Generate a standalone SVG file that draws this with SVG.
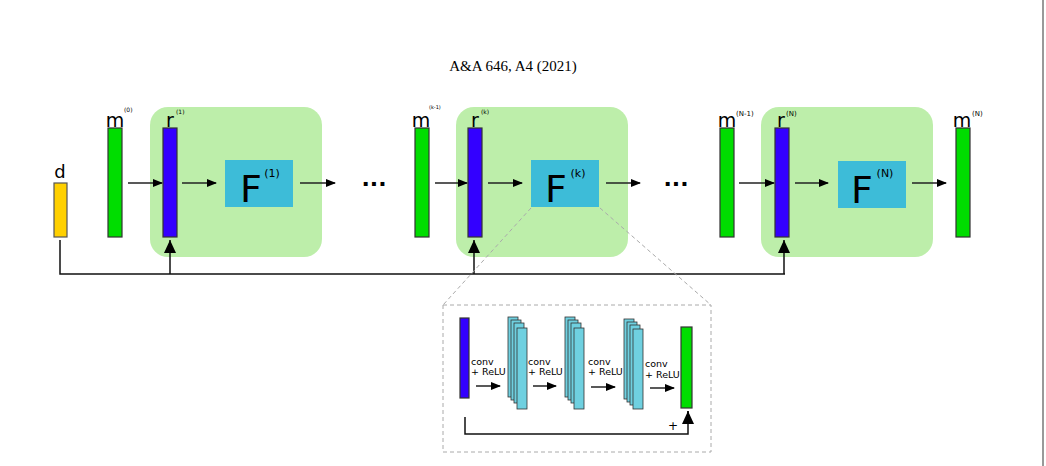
<svg xmlns="http://www.w3.org/2000/svg" width="1046" height="466" viewBox="0 0 1046 466">
<style>
.t{font-family:"DejaVu Sans",sans-serif;fill:#000}
.g{fill:#00dd00;stroke:#333;stroke-width:1.2}
.b{fill:#3300ff;stroke:#333;stroke-width:1.2}
.box{fill:#bdeeaa}
.F{fill:#3dbcd8}
.c{fill:#6fd0e0;stroke:#333;stroke-width:0.8}
.a{stroke:#222;stroke-width:1.5;fill:none}
.l{stroke:#111;stroke-width:1.5;fill:none}
.d{stroke:#aaa;stroke-width:1;stroke-dasharray:4,3;fill:none}
</style>
<defs>
<marker id="ar" markerWidth="10" markerHeight="8" refX="9" refY="4" orient="auto" markerUnits="userSpaceOnUse"><path d="M0,0L10,4L0,8z" fill="#000"/></marker>
<marker id="au" markerWidth="14" markerHeight="12" refX="13" refY="6" orient="auto" markerUnits="userSpaceOnUse"><path d="M0,0L13,6L0,12z" fill="#000"/></marker>
</defs>
<rect width="1046" height="466" fill="#fff"/>
<line x1="1043" y1="0" x2="1043" y2="466" stroke="#999" stroke-width="2"/>
<text x="513" y="71" text-anchor="middle" font-family="Liberation Serif,serif" font-size="15">A&amp;A 646, A4 (2021)</text>

<g id="block1"><rect class="box" x="150" y="107" width="172" height="150" rx="18"/></g>
<g id="block2"><rect class="box" x="456" y="107" width="172" height="150" rx="18"/></g>
<g id="block3"><rect class="box" x="761" y="107" width="172" height="150" rx="18"/></g>

<g id="d"><rect x="54" y="183" width="13" height="54" fill="#ffd000" stroke="#555" stroke-width="1.2"/><text class="t" x="60" y="178" text-anchor="middle" font-size="18">d</text></g>
<g id="m0"><rect class="g" x="108" y="128" width="14" height="109"/><text class="t" x="115" y="127" text-anchor="middle" font-size="19">m</text><text class="t" x="124" y="112" font-size="6">(0)</text></g>
<g id="r1"><rect class="b" x="163" y="128" width="14" height="109"/><text class="t" x="170" y="127" text-anchor="middle" font-size="19">r</text><text class="t" x="176" y="114" font-size="6">(1)</text></g>
<g id="F1"><rect class="F" x="225" y="160" width="68" height="47"/><text class="t" x="251" y="202" text-anchor="middle" font-size="38">F</text><text class="t" x="272" y="177" text-anchor="middle" font-size="11">(1)</text></g>

<g id="mk1"><rect class="g" x="415" y="128" width="14" height="109"/><text class="t" x="421" y="127" text-anchor="middle" font-size="19">m</text><text class="t" x="429" y="109" font-size="5">(k-1)</text></g>
<g id="rk"><rect class="b" x="468" y="128" width="14" height="109"/><text class="t" x="475" y="127" text-anchor="middle" font-size="19">r</text><text class="t" x="481" y="114" font-size="6">(k)</text></g>
<g id="Fk"><rect class="F" x="531" y="160" width="68" height="47"/><text class="t" x="556" y="202" text-anchor="middle" font-size="38">F</text><text class="t" x="578" y="177" text-anchor="middle" font-size="11">(k)</text></g>

<g id="mN1"><rect class="g" x="720" y="128" width="14" height="109"/><text class="t" x="727" y="127" text-anchor="middle" font-size="19">m</text><text class="t" x="736" y="116" font-size="7">(N-1)</text></g>
<g id="rN"><rect class="b" x="775" y="128" width="14" height="109"/><text class="t" x="781" y="127" text-anchor="middle" font-size="19">r</text><text class="t" x="786" y="116" font-size="7">(N)</text></g>
<g id="FN"><rect class="F" x="838" y="161" width="68" height="47"/><text class="t" x="862" y="203" text-anchor="middle" font-size="38">F</text><text class="t" x="885" y="177" text-anchor="middle" font-size="11">(N)</text></g>
<g id="mN"><rect class="g" x="956" y="128" width="14" height="109"/><text class="t" x="962" y="127" text-anchor="middle" font-size="19">m</text><text class="t" x="972" y="116" font-size="7">(N)</text></g>

<g id="dots"><text class="t" x="374" y="191" text-anchor="middle" font-size="22" font-weight="bold">···</text><text class="t" x="676" y="191" text-anchor="middle" font-size="22" font-weight="bold">···</text></g>

<g id="connectors">
<line class="a" x1="128" y1="183" x2="162" y2="183" marker-end="url(#ar)"/>
<line class="a" x1="182" y1="183" x2="216" y2="183" marker-end="url(#ar)"/>
<line class="a" x1="300" y1="183" x2="335" y2="183" marker-end="url(#ar)"/>
<line class="a" x1="435" y1="183" x2="467" y2="183" marker-end="url(#ar)"/>
<line class="a" x1="488" y1="183" x2="522" y2="183" marker-end="url(#ar)"/>
<line class="a" x1="606" y1="183" x2="640" y2="183" marker-end="url(#ar)"/>
<line class="a" x1="739" y1="183" x2="774" y2="183" marker-end="url(#ar)"/>
<line class="a" x1="795" y1="183" x2="828" y2="183" marker-end="url(#ar)"/>
<line class="a" x1="912" y1="183" x2="946" y2="183" marker-end="url(#ar)"/>
<path class="l" d="M60,240V274H785"/>
<line class="l" x1="170" y1="274" x2="170" y2="240" marker-end="url(#au)"/>
<line class="l" x1="474" y1="274" x2="474" y2="240" marker-end="url(#au)"/>
<line class="l" x1="784" y1="274" x2="784" y2="240" marker-end="url(#au)"/>
<line class="d" x1="531" y1="208" x2="443" y2="305"/>
<line class="d" x1="600" y1="208" x2="711" y2="305"/>
</g>

<g id="inset">
<rect class="d" x="443" y="305" width="268" height="147"/>
<rect class="b" x="460" y="318" width="9" height="80"/>
<g id="s1"><rect class="c" x="508" y="317" width="10" height="80"/><rect class="c" x="511" y="320" width="10" height="80"/><rect class="c" x="514" y="323" width="10" height="80"/><rect class="c" x="517" y="328" width="10" height="81"/></g>
<g id="s2"><rect class="c" x="565" y="317" width="10" height="80"/><rect class="c" x="568" y="320" width="10" height="80"/><rect class="c" x="571" y="323" width="10" height="80"/><rect class="c" x="574" y="328" width="10" height="81"/></g>
<g id="s3"><rect class="c" x="624" y="319" width="10" height="80"/><rect class="c" x="627" y="322" width="10" height="80"/><rect class="c" x="630" y="325" width="10" height="80"/><rect class="c" x="633" y="329" width="10" height="80"/></g>
<rect class="g" x="681" y="327" width="11" height="81"/>
<g class="t" font-size="9.5">
<text x="471" y="365">conv</text><text x="471" y="375">+ ReLU</text>
<text x="528" y="365">conv</text><text x="528" y="375">+ ReLU</text>
<text x="588" y="365">conv</text><text x="588" y="375">+ ReLU</text>
<text x="645" y="367">conv</text><text x="645" y="378">+ ReLU</text>
<text x="668" y="430" font-size="12">+</text>
</g>
<line class="a" x1="476" y1="386" x2="500" y2="386" marker-end="url(#ar)"/>
<line class="a" x1="533" y1="386" x2="556" y2="386" marker-end="url(#ar)"/>
<line class="a" x1="591" y1="387" x2="615" y2="387" marker-end="url(#ar)"/>
<line class="a" x1="650" y1="388" x2="674" y2="388" marker-end="url(#ar)"/>
<path class="l" d="M465,417V434H688V411"/>
<line class="l" x1="688" y1="420" x2="688" y2="411" marker-end="url(#au)"/>
</g>
</svg>
